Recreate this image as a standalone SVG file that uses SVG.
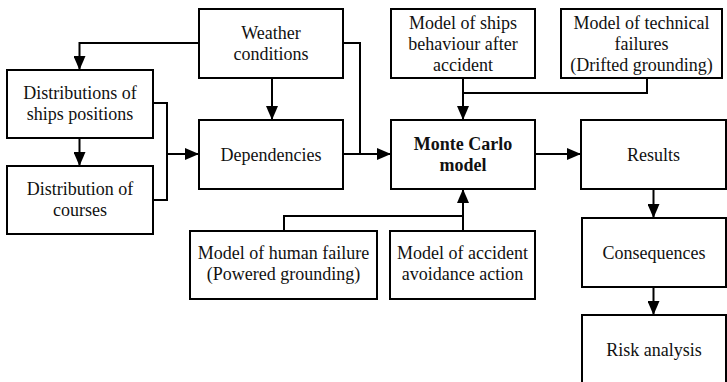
<svg xmlns="http://www.w3.org/2000/svg" width="727" height="382" viewBox="0 0 727 382">
<style>
.box{fill:#fff;stroke:#000;stroke-width:2}
.t{font-family:"Liberation Serif","Times New Roman",serif;font-size:18px;fill:#111;text-anchor:middle}
.b{font-weight:bold}
.c{fill:none;stroke:#000;stroke-width:2}
</style>
<defs>
<marker id="ah" viewBox="0 0 14 12" refX="14" refY="6" markerWidth="14" markerHeight="12" markerUnits="userSpaceOnUse" orient="auto">
<path d="M0,0 L14,6 L0,12 Z" fill="#000"/>
</marker>
</defs>
<rect width="727" height="382" fill="#fff"/>
<g id="connectors">
<path class="c" d="M199,43 H79.5 V70" marker-end="url(#ah)"/>
<path class="c" d="M272,78 V120" marker-end="url(#ah)"/>
<path class="c" d="M79.5,138 V166" marker-end="url(#ah)"/>
<path class="c" d="M153,103 H167 V200 H153"/>
<path class="c" d="M167,154 H199" marker-end="url(#ah)"/>
<path class="c" d="M343,43 H360 V154"/>
<path class="c" d="M343,154 H391" marker-end="url(#ah)"/>
<path class="c" d="M647,78 V93 H463"/>
<path class="c" d="M463,78 V120" marker-end="url(#ah)"/>
<path class="c" d="M535,154 H581" marker-end="url(#ah)"/>
<path class="c" d="M284,231 V216 H463"/>
<path class="c" d="M463,231 V189" marker-end="url(#ah)"/>
<path class="c" d="M653.5,189 V218" marker-end="url(#ah)"/>
<path class="c" d="M653.5,287 V315" marker-end="url(#ah)"/>
</g>
<g id="weather">
<rect class="box" x="199" y="9" width="144" height="69"/>
<text class="t" x="271" y="39">Weather</text>
<text class="t" x="271" y="60">conditions</text>
</g>
<g id="positions">
<rect class="box" x="7" y="70" width="146" height="68"/>
<text class="t" x="80" y="99">Distributions of</text>
<text class="t" x="80" y="120">ships positions</text>
</g>
<g id="courses">
<rect class="box" x="7" y="166" width="146" height="68"/>
<text class="t" x="80" y="195">Distribution of</text>
<text class="t" x="80" y="216">courses</text>
</g>
<g id="dependencies">
<rect class="box" x="199" y="120" width="144" height="69"/>
<text class="t" x="271" y="160.5">Dependencies</text>
</g>
<g id="behaviour">
<rect class="box" x="391" y="9" width="144" height="69"/>
<text class="t" x="463" y="29">Model of ships</text>
<text class="t" x="463" y="50">behaviour after</text>
<text class="t" x="463" y="71">accident</text>
</g>
<g id="technical">
<rect class="box" x="561" y="9" width="161" height="69"/>
<text class="t" x="641.5" y="29">Model of technical</text>
<text class="t" x="641.5" y="50">failures</text>
<text class="t" x="641.5" y="71">(Drifted grounding)</text>
</g>
<g id="montecarlo">
<rect class="box" x="391" y="120" width="144" height="69"/>
<text class="t b" x="463" y="150">Monte Carlo</text>
<text class="t b" x="463" y="171">model</text>
</g>
<g id="results">
<rect class="box" x="581" y="120" width="145" height="69"/>
<text class="t" x="653.5" y="160.5">Results</text>
</g>
<g id="human">
<rect class="box" x="190" y="231" width="187" height="68"/>
<text class="t" x="283.5" y="259">Model of human failure</text>
<text class="t" x="283.5" y="280">(Powered grounding)</text>
</g>
<g id="avoidance">
<rect class="box" x="390" y="231" width="145" height="68"/>
<text class="t" x="462.5" y="259">Model of accident</text>
<text class="t" x="462.5" y="280">avoidance action</text>
</g>
<g id="consequences">
<rect class="box" x="582" y="218" width="144" height="69"/>
<text class="t" x="654" y="258.5">Consequences</text>
</g>
<g id="risk">
<rect class="box" x="582" y="315" width="144" height="69"/>
<text class="t" x="654" y="356">Risk analysis</text>
</g>
</svg>
